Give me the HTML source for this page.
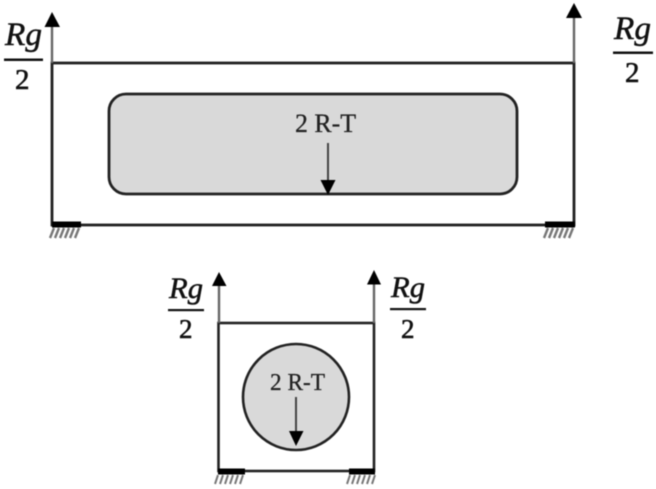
<!DOCTYPE html>
<html>
<head>
<meta charset="utf-8">
<style>
html,body{margin:0;padding:0;background:#fff;width:656px;height:489px;overflow:hidden}
svg{display:block;filter:blur(.4px)}
.m{font-family:"Liberation Serif",serif;font-style:italic;fill:#111;stroke:#111;stroke-width:.5px}
.n{font-family:"Liberation Serif",serif;fill:#111;stroke:#111;stroke-width:.6px}
.t{font-family:"Liberation Serif",serif;fill:#222;stroke:#222;stroke-width:.3px}
</style>
</head>
<body>
<svg width="656" height="489" viewBox="0 0 656 489" xmlns="http://www.w3.org/2000/svg">
<defs>
<g id="hatch" stroke="#777" stroke-width="2.400" fill="none">
<path d="M7 0L3 10M12 0L8 10M17 0L13 10M22 0L18 10M27 0L23 10M32 0L28 10"/>
</g>
<g id="hatchs" stroke="#777" stroke-width="2" fill="none">
<path d="M6 0L3 9M11 0L8 9M16 0L13 9M21 0L18 9M26 0L23 9M31 0L28 9"/>
</g>
</defs>

<!-- top frame -->
<rect x="52" y="63" width="522" height="162" fill="#fff" stroke="#222" stroke-width="2.800"/>
<rect x="109" y="94" width="408" height="100" rx="17" ry="17" fill="#d9d9d9" stroke="#222" stroke-width="2.800"/>
<line x1="52" y1="63" x2="52" y2="25" stroke="#666" stroke-width="2.400"/>
<polygon points="52,12 44.500,27 60,27" fill="#000"/>
<line x1="574" y1="63" x2="574" y2="16" stroke="#666" stroke-width="2.400"/>
<polygon points="574,3 566,18 582,18" fill="#000"/>
<line x1="328" y1="143" x2="328" y2="182" stroke="#444" stroke-width="2"/>
<polygon points="328,195 320.500,180 335.500,180" fill="#000"/>
<text class="t" x="295" y="132" font-size="26" textLength="61" lengthAdjust="spacingAndGlyphs">2 R-T</text>

<!-- top supports -->
<rect x="52" y="221.500" width="29" height="6" fill="#000"/>
<rect x="545" y="221.500" width="30" height="6" fill="#000"/>
<use href="#hatch" x="47" y="228"/>
<use href="#hatch" x="541" y="228"/>

<!-- top labels -->
<text class="m" x="5" y="45" font-size="33" textLength="37" lengthAdjust="spacingAndGlyphs">Rg</text>
<rect x="4" y="58.500" width="39" height="2.500" fill="#111"/>
<text class="n" x="15" y="89" font-size="29">2</text>
<text class="m" x="614" y="39" font-size="33" textLength="37" lengthAdjust="spacingAndGlyphs">Rg</text>
<rect x="613" y="51.500" width="40" height="2.500" fill="#111"/>
<text class="n" x="625" y="82" font-size="29">2</text>

<!-- bottom frame -->
<rect x="218.500" y="323" width="155.500" height="148" fill="#fff" stroke="#222" stroke-width="2.600"/>
<circle cx="296" cy="397" r="53" fill="#d9d9d9" stroke="#222" stroke-width="2.600"/>
<line x1="219" y1="323" x2="219" y2="283" stroke="#666" stroke-width="2.400"/>
<polygon points="219,272 212,286 226.500,286" fill="#000"/>
<line x1="374" y1="323" x2="374" y2="281" stroke="#666" stroke-width="2.400"/>
<polygon points="374,270 367,284.500 381,284.500" fill="#000"/>
<line x1="296" y1="397" x2="296" y2="434" stroke="#444" stroke-width="2"/>
<polygon points="296,446 289,431 303.500,431" fill="#000"/>
<text class="t" x="270" y="390" font-size="24" textLength="55" lengthAdjust="spacingAndGlyphs">2 R-T</text>

<!-- bottom supports -->
<rect x="218" y="468.500" width="27" height="6" fill="#000"/>
<rect x="349" y="468.500" width="26" height="6" fill="#000"/>
<use href="#hatchs" x="212" y="475"/>
<use href="#hatchs" x="344" y="475"/>

<!-- bottom labels -->
<text class="m" x="169" y="298" font-size="30" textLength="34" lengthAdjust="spacingAndGlyphs">Rg</text>
<rect x="168" y="309" width="36" height="2.200" fill="#111"/>
<text class="n" x="179" y="338" font-size="27">2</text>
<text class="m" x="391" y="297" font-size="30" textLength="34" lengthAdjust="spacingAndGlyphs">Rg</text>
<rect x="390" y="308" width="36" height="2.200" fill="#111"/>
<text class="n" x="401" y="338" font-size="27">2</text>
</svg>
</body>
</html>
